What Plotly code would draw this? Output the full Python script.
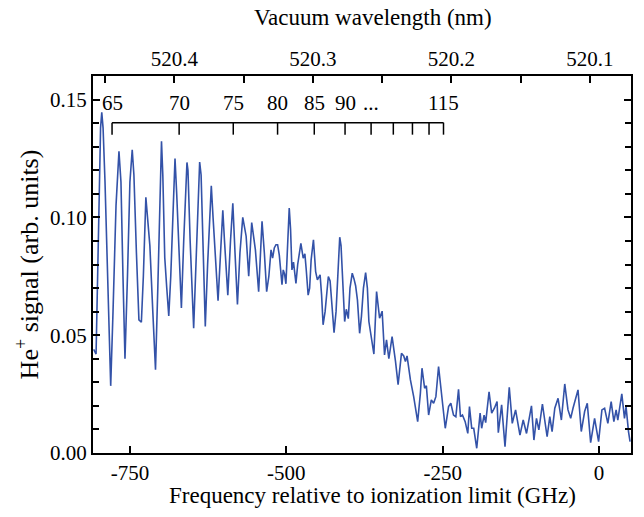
import plotly.graph_objects as go

# He+ ion signal vs. laser frequency relative to the ionization limit (GHz)
freq_ghz = [
    -808.0, -804.1, -800.1, -796.9, -795.0, -792.9, -789.8, -785.0, -780.7, -777.0,
    -772.2, -767.5, -764.3, -761.1, -757.9, -753.9, -750.0, -746.3, -743.6, -739.6,
    -735.6, -731.7, -728.5, -724.5, -722.1, -718.1, -713.4, -709.1, -705.4, -701.4,
    -699.5, -697.4, -694.3, -691.1, -687.9, -684.7, -680.7, -677.9, -675.2, -671.2,
    -667.7, -664.0, -660.4, -658.8, -657.2, -653.7, -648.1, -644.1, -640.1, -638.5,
    -636.2, -633.0, -629.5, -625.8, -621.8, -619.9, -617.1, -613.1, -609.1, -605.1,
    -601.5, -598.8, -593.5, -589.2, -585.5, -582.0, -578.1, -574.1, -569.6, -564.2,
    -560.1, -555.3, -549.4, -544.2, -538.8, -535.1, -531.4, -527.9, -524.4, -521.9,
    -519.2, -516.5, -513.9, -511.2, -506.9, -504.9, -502.8, -500.6, -497.7, -495.3,
    -493.2, -491.0, -488.5, -484.6, -481.8, -476.7, -473.0, -470.3, -468.2, -465.1,
    -462.7, -460.3, -456.6, -453.1, -450.3, -446.0, -443.6, -441.2, -438.0, -434.8,
    -432.8, -430.0, -426.9, -423.7, -420.5, -417.3, -414.6, -412.5, -410.2, -406.7,
    -404.1, -400.9, -398.2, -394.6, -391.9, -389.2, -386.3, -382.8, -379.9, -376.7,
    -373.2, -370.4, -368.0, -364.0, -360.0, -355.7, -350.9, -346.8, -344.9, -343.0,
    -339.8, -336.1, -330.9, -328.2, -325.5, -321.3, -315.9, -312.3, -309.6, -307.0,
    -301.6, -296.4, -292.7, -290.0, -285.7, -283.1, -278.9, -276.1, -272.5, -268.2,
    -264.5, -260.9, -256.6, -251.3, -245.9, -240.6, -237.0, -232.7, -229.0, -224.7,
    -221.6, -218.4, -214.1, -209.9, -207.2, -203.6, -200.4, -195.6, -190.2, -187.7,
    -183.8, -181.3, -175.9, -171.7, -167.4, -163.1, -161.1, -155.8, -150.4, -143.6,
    -138.8, -133.5, -126.5, -121.3, -116.0, -108.1, -104.2, -100.1, -96.3, -90.6,
    -86.7, -83.1, -78.8, -75.1, -70.8, -65.6, -60.3, -54.9, -49.7, -45.4,
    -41.7, -33.7, -28.5, -23.1, -18.9, -13.5, -7.2, -0.8, 4.5, 8.8,
    14.0, 19.3, 23.6, 27.2, 29.9, 36.3, 40.6, 43.1, 47.0, 49.5,
]
signal = [
    0.044, 0.042, 0.095, 0.138, 0.1446, 0.138, 0.115, 0.070, 0.0285, 0.060,
    0.105, 0.128, 0.115, 0.075, 0.040, 0.075, 0.115, 0.1287, 0.118, 0.085,
    0.0565, 0.0555, 0.075, 0.1085, 0.102, 0.088, 0.060, 0.0353, 0.070, 0.120,
    0.1323, 0.118, 0.083, 0.070, 0.0582, 0.075, 0.110, 0.125, 0.110, 0.080,
    0.0615, 0.090, 0.118, 0.1233, 0.120, 0.090, 0.053, 0.080, 0.115, 0.1235,
    0.118, 0.085, 0.0537, 0.080, 0.105, 0.1134, 0.100, 0.080, 0.0646, 0.085,
    0.103, 0.090, 0.067, 0.090, 0.106, 0.085, 0.063, 0.085, 0.100, 0.092,
    0.075, 0.0978, 0.0862, 0.0685, 0.0983, 0.085, 0.0685, 0.075, 0.0862, 0.0827,
    0.087, 0.0884, 0.0884, 0.084, 0.0714, 0.0777, 0.076, 0.0718, 0.090, 0.104,
    0.095, 0.0777, 0.081, 0.072, 0.080, 0.089, 0.0827, 0.0845, 0.078, 0.067,
    0.070, 0.082, 0.0905, 0.077, 0.0735, 0.0756, 0.067, 0.0544, 0.060, 0.070,
    0.0749, 0.073, 0.060, 0.0511, 0.060, 0.080, 0.0916, 0.088, 0.075, 0.0558,
    0.061, 0.057, 0.070, 0.0763, 0.074, 0.071, 0.065, 0.0508, 0.058, 0.070,
    0.0766, 0.070, 0.0558, 0.048, 0.042, 0.0685, 0.0572, 0.0602, 0.052, 0.0416,
    0.048, 0.040, 0.0494, 0.045, 0.039, 0.029, 0.0423, 0.0412, 0.0388, 0.0412,
    0.031, 0.0239, 0.0169, 0.0133, 0.0253, 0.036, 0.0275, 0.0285, 0.0161, 0.0225,
    0.0211, 0.0239, 0.0367, 0.0239, 0.0105, 0.0197, 0.0211, 0.0161, 0.0154, 0.027,
    0.0154, 0.0161, 0.0133, 0.0083, 0.0197, 0.0105, 0.0105, 0.002, 0.0169, 0.0105,
    0.0161, 0.0129, 0.026, 0.0169, 0.019, 0.0218, 0.0086, 0.0204, 0.0027, 0.0279,
    0.0126, 0.0183, 0.0076, 0.014, 0.0083, 0.020, 0.0055, 0.0147, 0.0098, 0.0208,
    0.0133, 0.0069, 0.0154, 0.0091, 0.019, 0.0232, 0.014, 0.0293, 0.0183, 0.0147,
    0.019, 0.0268, 0.0091, 0.0176, 0.0211, 0.0044, 0.0147, 0.0048, 0.0183, 0.019,
    0.0126, 0.0218, 0.0133, 0.0183, 0.014, 0.0251, 0.0147, 0.0197, 0.0091, 0.0048,
]

# Rydberg series n = 65 ... 115 converging to the ionization limit
n_levels = [65, 70, 75, 80, 85, 90, 95, 100, 105, 110, 115]
n_labels = {65: "65", 70: "70", 75: "75", 80: "80", 85: "85", 90: "90", 95: "...", 115: "115"}
R_HE_GHZ = 3289391.0          # Rydberg constant for 4He (frequency units)

# Wavelength scale: the UV excitation is the second harmonic of the laser
C_NM_GHZ = 299792458.0        # speed of light in nm*GHz
LIMIT_NM = 520.0934           # laser vacuum wavelength at the ionization limit

x_range = [-809.0, 51.0]
y_range = [0.0, 0.16]
bracket_y = 0.1402
bracket_tick = 0.0051
label_y = 0.1487

FONT = "Liberation Serif"
LINE_BLUE = "#3352A8"
TICK_SIZE = 21
TITLE_SIZE = 23


def laser_wavelength(f_ghz):
    nu_limit = 2.0 * C_NM_GHZ / LIMIT_NM
    return 2.0 * C_NM_GHZ / (nu_limit + f_ghz)


def level_freq(n):
    return -R_HE_GHZ / n ** 2


fig = go.Figure()
fig.add_trace(go.Scatter(
    x=freq_ghz, y=signal, mode="lines",
    line=dict(color=LINE_BLUE, width=1.6),
    showlegend=False, hoverinfo="skip",
))
# transparent twin so the wavelength axis is attached to the same data
fig.add_trace(go.Scatter(
    x=[laser_wavelength(f) for f in freq_ghz], y=signal, xaxis="x2",
    mode="lines", line=dict(width=0), opacity=0,
    showlegend=False, hoverinfo="skip",
))

# bracket marking the Rydberg levels
f_lo, f_hi = level_freq(n_levels[0]), level_freq(n_levels[-1])
fig.add_shape(type="line", xref="x", yref="y", x0=f_lo, x1=f_hi,
              y0=bracket_y, y1=bracket_y, line=dict(color="black", width=1.5))
for n in n_levels:
    fn = level_freq(n)
    fig.add_shape(type="line", xref="x", yref="y", x0=fn, x1=fn,
                  y0=bracket_y, y1=bracket_y - bracket_tick,
                  line=dict(color="black", width=1.5))
for n, txt in n_labels.items():
    fig.add_annotation(x=level_freq(n), y=label_y, xref="x", yref="y",
                       text=txt, showarrow=False, xanchor="center", yanchor="middle",
                       font=dict(family=FONT, size=TICK_SIZE, color="black"))

# axis titles (placed slightly right of the plot centre)
fig.add_annotation(text="Frequency relative to ionization limit (GHz)",
                   xref="paper", yref="paper", x=0.52, y=-0.114,
                   xanchor="center", yanchor="middle", showarrow=False,
                   font=dict(family=FONT, size=TITLE_SIZE, color="black"))
fig.add_annotation(text="Vacuum wavelength (nm)",
                   xref="paper", yref="paper", x=0.52, y=1.154,
                   xanchor="center", yanchor="middle", showarrow=False,
                   font=dict(family=FONT, size=TITLE_SIZE, color="black"))

axis_common = dict(
    showline=True, linecolor="black", linewidth=2, showgrid=False, zeroline=False,
    ticks="inside", ticklen=7, tickwidth=1.5, tickcolor="black",
    tickfont=dict(family=FONT, size=TICK_SIZE, color="black"),
)

fig.update_layout(
    width=644, height=517,
    margin=dict(l=93, r=11, t=76, b=64),
    paper_bgcolor="white", plot_bgcolor="white",
    xaxis=dict(
        range=x_range, tickvals=[-750, -500, -250, 0], ticktext=["-750", "-500", "-250", "0"],
        mirror=False,
        **axis_common,
    ),
    xaxis2=dict(
        overlaying="x", side="top", anchor="y",
        range=[laser_wavelength(x_range[0]), laser_wavelength(x_range[1])],
        tick0=520.0, dtick=0.1, tickformat=".1f",
        minor=dict(dtick=0.05, ticks="inside", ticklen=7, tickwidth=1.5, tickcolor="black"),
        **axis_common,
    ),
    yaxis=dict(
        range=y_range, tickvals=[0, 0.05, 0.10, 0.15], tickformat=".2f",
        mirror="ticks",
        minor=dict(dtick=0.01, ticks="inside", ticklen=6, tickwidth=1.5, tickcolor="black"),
        title=dict(text="He<sup>+</sup> signal (arb. units)", standoff=4,
                   font=dict(family=FONT, size=26, color="black")),
        **axis_common,
    ),
)

fig.write_html("out.html")
